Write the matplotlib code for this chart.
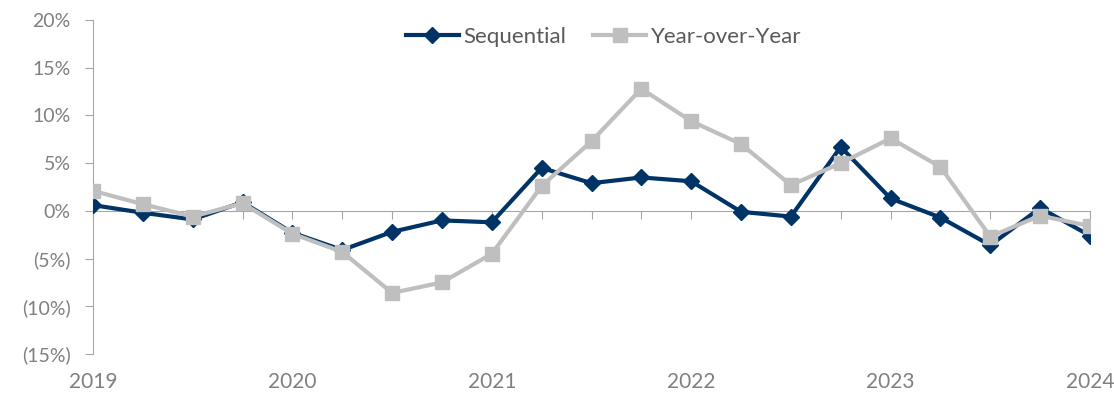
import numpy as np
import matplotlib.pyplot as plt
import matplotlib.ticker as ticker

quarters = np.arange(2019, 2024.01, 0.25)
sequential = [0.6, -0.2, -0.9, 0.9, -2.3, -4.1, -2.2, -1.0, -1.2, 4.5, 2.9,
              3.5, 3.1, -0.1, -0.6, 6.7, 1.3, -0.7, -3.6, 0.3, -2.6]
yoy = [2.1, 0.7, -0.6, 0.8, -2.4, -4.3, -8.6, -7.5, -4.5, 2.6, 7.3,
       12.8, 9.4, 7.0, 2.7, 5.0, 7.6, 4.6, -2.7, -0.5, -1.6]
year_labels = [2019, 2020, 2021, 2022, 2023, 2024]

plt.rcParams['font.family'] = ['Lato', 'DejaVu Sans']
navy = "#003366"
gray = "#bfbfbf"
axis_col = "#a6a6a6"
text_col = "#808080"

fig = plt.figure(figsize=(11.14, 4), dpi=100)
ax = fig.add_axes([93/1114, 1 - 354/400, (1090 - 93)/1114, (354 - 20)/400])

ax.plot(quarters, sequential, color=navy, lw=3, marker="D", ms=8,
        label="Sequential", zorder=3)
ax.plot(quarters, yoy, color=gray, lw=3, marker="s", ms=10,
        label="Year-over-Year", zorder=4)

ax.set_xlim(2019, 2024)
ax.set_ylim(-15, 20)
ax.yaxis.set_major_locator(ticker.MultipleLocator(5))
ax.yaxis.set_major_formatter(ticker.FuncFormatter(
    lambda v, p: f"{v:.0f}%" if v >= 0 else f"({-v:.0f}%)"))

for s in ["top", "right"]:
    ax.spines[s].set_visible(False)
ax.spines["bottom"].set_position(("data", 0))
ax.spines["bottom"].set_color(axis_col)
ax.spines["left"].set_color(axis_col)
ax.set_xticks(quarters)
ax.set_xticklabels([])
ax.tick_params(axis="x", direction="out", length=6, color=axis_col)
ax.tick_params(axis="y", direction="out", length=6, color=axis_col,
               labelsize=14, labelcolor=text_col, pad=10)

for yr in year_labels:
    ax.text(yr, -0.085, str(yr), transform=ax.get_xaxis_transform(),
            ha="center", va="center", fontsize=15, color=text_col)

leg = ax.legend(loc="upper center", bbox_to_anchor=(0.512, 1.04), ncol=2,
                frameon=False, fontsize=16, handlelength=2.4,
                columnspacing=1.2, handletextpad=0.2)
for t in leg.get_texts():
    t.set_color("#595959")

fig.savefig("out.png", dpi=100)
